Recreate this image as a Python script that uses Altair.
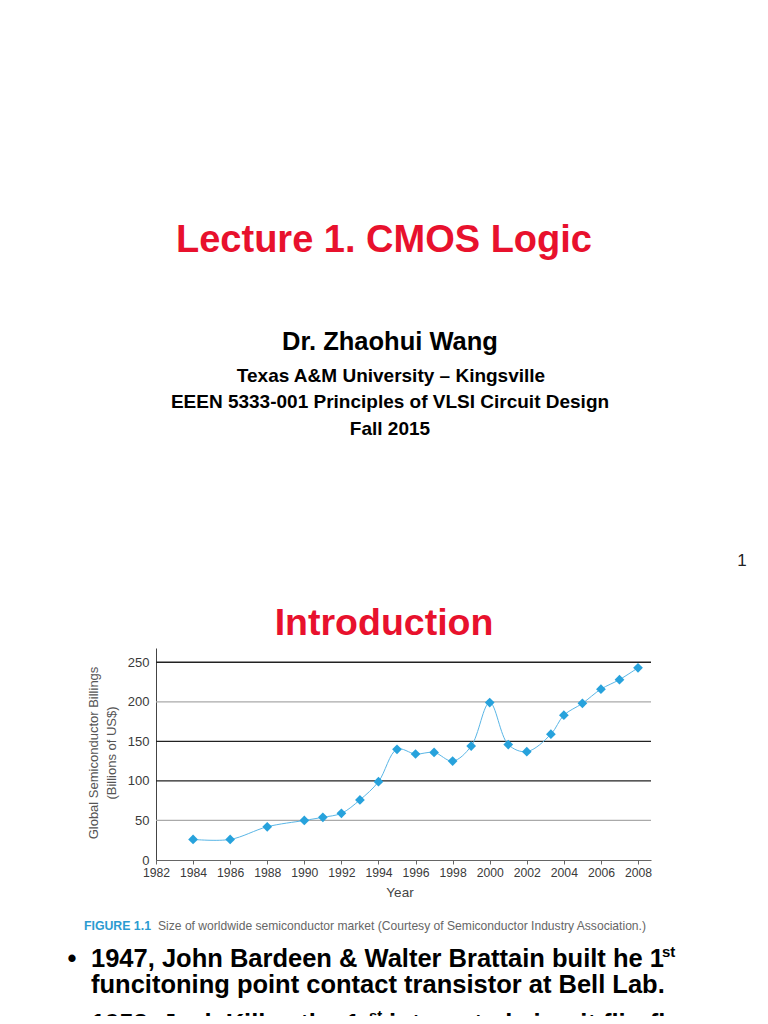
import altair as alt
import pandas as pd

# ---- data ----
years = [1984, 1986, 1988, 1990, 1991, 1992, 1993, 1994, 1995, 1996, 1997,
         1998, 1999, 2000, 2001, 2002, 2003.3, 2004, 2005, 2006, 2007, 2008]
billings = [26, 26, 42, 50, 54, 59, 76, 99, 140, 134, 136,
            125, 144, 199, 146, 137, 159, 183, 198, 216, 228, 243]
x_ticks = list(range(1982, 2009, 2))
y_ticks = [0, 50, 100, 150, 200, 250]
grid_dark = [250, 150, 100]
grid_light = [200, 50]

# ---- text content ----
title_text = "Lecture 1. CMOS Logic"
author_text = "Dr. Zhaohui Wang"
univ_text = "Texas A&M University – Kingsville"
course_text = "EEEN 5333-001 Principles of VLSI Circuit Design"
term_text = "Fall 2015"
page_text = "1"
intro_text = "Introduction"
ytitle1 = "Global Semiconductor Billings"
ytitle2 = "(Billions of US$)"
xtitle = "Year"
fig_label = "FIGURE 1.1"
fig_caption = "Size of worldwide semiconductor market (Courtesy of Semiconductor Industry Association.)"
b1_line1 = "1947, John Bardeen & Walter Brattain built he 1"
b1_line2 = "funcitoning point contact transistor at Bell Lab."
b2_a = "1958, Jack Kilby, the 1"
b2_b = "integrated circuit flip-flop"
sup = "st"

SANS = "Liberation Sans"
RED = "#e8112d"

df = pd.DataFrame({"year": years, "billings": billings})
one = pd.DataFrame({"k": [0]})

xs = alt.Scale(domain=[1982, 2008.7], nice=False, zero=False)
ys = alt.Scale(domain=[0, 268], nice=False)
xaxis = alt.Axis(values=x_ticks, format="d", title=None, grid=False,
                 tickSize=4, tickColor="#666", domainColor="#666",
                 labelPadding=2, labelColor="#3a3a3a", labelFontSize=12.2,
                 labelFont=SANS, labelOverlap=False, labelFlush=False)
yaxis = alt.Axis(values=y_ticks, title=None, grid=False, ticks=False,
                 domainColor="#444", labelPadding=7, labelColor="#3a3a3a",
                 labelFontSize=13, labelFont=SANS, labelOverlap=False,
                 labelFlush=False)


def txt(s, x, y, size, color="#000", bold=True, align="left", angle=0,
        font=SANS, baseline="alphabetic"):
    kw = dict(text=s, fontSize=size, color=color,
              fontWeight="bold" if bold else "normal", align=align,
              baseline=baseline, font=font)
    if angle:
        kw["angle"] = angle
    return alt.Chart(one).mark_text(**kw).encode(x=alt.value(x), y=alt.value(y))


rules_dark = alt.Chart(pd.DataFrame({"v": grid_dark})).mark_rule(
    color="#222", strokeWidth=1.3).encode(y=alt.Y("v:Q", scale=ys, axis=yaxis))
rules_light = alt.Chart(pd.DataFrame({"v": grid_light})).mark_rule(
    color="#aaa", strokeWidth=1.3).encode(y=alt.Y("v:Q", scale=ys, axis=yaxis))

line = alt.Chart(df).mark_line(interpolate="catmull-rom", color="#5ab6e6",
                               strokeWidth=1).encode(
    x=alt.X("year:Q", scale=xs, axis=xaxis),
    y=alt.Y("billings:Q", scale=ys, axis=yaxis))
pts = alt.Chart(df).mark_point(shape="diamond", filled=True, opacity=1,
                               color="#27a2dc", size=95).encode(
    x=alt.X("year:Q", scale=xs, axis=xaxis),
    y=alt.Y("billings:Q", scale=ys, axis=yaxis))

texts = [
    txt(title_text, 228, -396, 38, RED, align="center"),
    txt(author_text, 234, -298, 25.5, align="center"),
    txt(univ_text, 235, -266, 19, align="center"),
    txt(course_text, 234, -240, 19, align="center"),
    txt(term_text, 234, -213, 19, align="center"),
    txt(page_text, 586, -82, 17, "#222", bold=False, align="center"),
    txt(intro_text, 228, -13, 37.5, RED, align="center"),
    txt(ytitle1, -62, 105, 13, "#555", bold=False, align="center",
        angle=270, baseline="middle"),
    txt(ytitle2, -44, 105, 13, "#555", bold=False, align="center",
        angle=270, baseline="middle"),
    txt(xtitle, 244, 249, 13.5, "#444", bold=False, align="center"),
    txt(fig_label, -72, 282, 12.3, "#2b9bd1"),
    txt(fig_caption, 2, 282, 12.1, "#666", bold=False),
    txt("•", -84, 319, 25.5, align="center"),
    txt(b1_line1, -65, 319, 25.5),
    txt(sup, 506, 309, 15),
    txt(b1_line2, -65, 345, 25.5),
    txt("•", -84, 384, 25.5, align="center"),
    txt(b2_a, -65, 384, 25.5),
    txt(sup, 213, 373, 15),
    txt(b2_b, 233, 384, 25.5),
]

chart = alt.layer(rules_light, rules_dark, line, pts, *texts).properties(
    width=495, height=212,
    autosize=alt.AutoSizeParams(type="none"),
    padding={"left": 148, "top": 640, "right": 109, "bottom": 156},
    background="white",
).configure_view(strokeWidth=0)

chart.save("out.html", embed_options={"renderer": "svg", "actions": False})
